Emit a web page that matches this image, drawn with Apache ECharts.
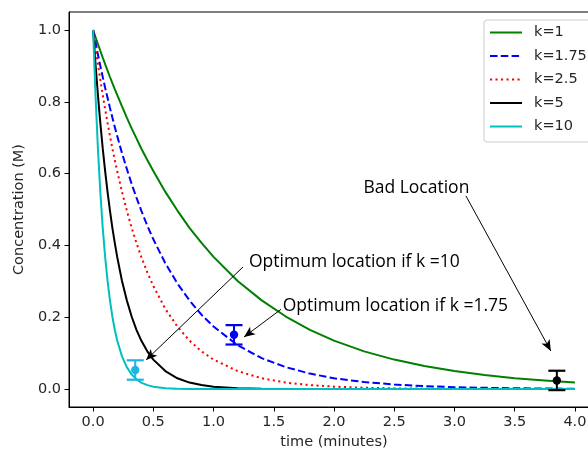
<!DOCTYPE html>
<html>
<head>
<meta charset="utf-8">
<script src="https://cdn.jsdelivr.net/npm/echarts@6/dist/echarts.min.js"></script>
<style>html,body{margin:0;padding:0;background:#fff;}#c{width:588px;height:453px;}</style>
</head>
<body>
<div id="c"></div>
<script>
// time samples (minutes)
const times = [0, 0.02, 0.04, 0.06, 0.08, 0.1, 0.12, 0.14, 0.16, 0.18, 0.2, 0.24, 0.28, 0.32, 0.36, 0.4, 0.45, 0.5, 0.6, 0.7, 0.8, 0.9, 1.0, 1.2, 1.4, 1.6, 1.8, 2.0, 2.25, 2.5, 2.75, 3.0, 3.25, 3.5, 3.75, 4.0];
const seriesNames = ['k=1', 'k=1.75', 'k=2.5', 'k=5', 'k=10'];
const concK1 = [1, 0.980, 0.961, 0.942, 0.923, 0.905, 0.887, 0.869, 0.852, 0.835, 0.819, 0.787, 0.756, 0.726, 0.698, 0.670, 0.638, 0.607, 0.549, 0.497, 0.449, 0.407, 0.368, 0.301, 0.247, 0.202, 0.165, 0.135, 0.105, 0.082, 0.064, 0.050, 0.039, 0.030, 0.024, 0.018];
const concK175 = [1, 0.966, 0.932, 0.900, 0.869, 0.839, 0.811, 0.783, 0.756, 0.730, 0.705, 0.657, 0.613, 0.571, 0.533, 0.497, 0.455, 0.417, 0.350, 0.294, 0.247, 0.207, 0.174, 0.122, 0.086, 0.061, 0.043, 0.030, 0.0195, 0.0126, 0.0081, 0.0052, 0.0034, 0.0022, 0.0014, 0.0009];
const concK25 = [1, 0.951, 0.905, 0.861, 0.819, 0.779, 0.741, 0.705, 0.670, 0.638, 0.607, 0.549, 0.497, 0.449, 0.407, 0.368, 0.325, 0.287, 0.223, 0.174, 0.135, 0.105, 0.082, 0.050, 0.030, 0.018, 0.011, 0.0067, 0.0036, 0.0019, 0.0010, 0.0006, 0.0003, 0.0002, 0.0001, 0.0000];
const concK5 = [1, 0.905, 0.819, 0.741, 0.670, 0.607, 0.549, 0.497, 0.449, 0.407, 0.368, 0.301, 0.247, 0.202, 0.165, 0.135, 0.105, 0.082, 0.050, 0.030, 0.018, 0.011, 0.0067, 0.0025, 0.0009, 0.0003, 0.0001, 0, 0, 0, 0, 0, 0, 0, 0, 0];
const concK10 = [1, 0.819, 0.670, 0.549, 0.449, 0.368, 0.301, 0.247, 0.202, 0.165, 0.135, 0.091, 0.061, 0.041, 0.027, 0.018, 0.011, 0.0067, 0.0025, 0.0009, 0.0003, 0.0001, 0, 0, 0, 0, 0, 0, 0, 0, 0, 0, 0, 0, 0, 0];

// measured points with error bars
const errTimes = [0.35, 1.17, 3.85];
const errConc = [0.053, 0.151, 0.024];
const errSize = [0.027, 0.027, 0.027];

// tick labels
const xTicks = [0, 0.5, 1.0, 1.5, 2.0, 2.5, 3.0, 3.5, 4.0];
const yTicks = [0, 0.2, 0.4, 0.6, 0.8, 1.0];

// annotations
const annotTexts = ['Optimum location if k =10', 'Optimum location if k =1.75', 'Bad Location'];
const annotAnchors = [[1.29, 0.353], [1.57, 0.232], [2.24, 0.559]];
const arrowStarts = [[1.245, 0.340], [1.56, 0.222], [3.095, 0.538]];
const arrowEnds = [[0.44, 0.081], [1.253, 0.145], [3.80, 0.106]];

const lineColors = ['#008000', '#0000ff', '#ff0000', '#000000', '#00bfbf'];
const lineTypes = ['solid', [7.5, 3.3], [2.1, 3.4], 'solid', 'solid'];
const errColors = ['#1eb4e6', '#0000ee', '#000000'];
const allConc = [concK1, concK175, concK25, concK5, concK10];

const chart = echarts.init(document.getElementById('c'), null, {renderer: 'canvas'});
const tickFont = {fontFamily: 'DejaVu Sans', fontSize: 14.5, color: '#262626'};

const curveSeries = seriesNames.map((nm, i) => ({
  name: nm,
  type: 'line',
  data: times.map((t, j) => [t, allConc[i][j]]),
  showSymbol: false,
  symbol: 'none',
  lineStyle: {color: lineColors[i], width: 2, type: lineTypes[i]},
  itemStyle: {color: lineColors[i]},
  z: 2 + i
}));

const errSeries = {
  name: 'measured',
  type: 'custom',
  data: errTimes.map((t, i) => [t, errConc[i], errSize[i]]),
  z: 10,
  renderItem: function (params, api) {
    const x = api.value(0), y = api.value(1), e = api.value(2);
    const top = api.coord([x, y + e]);
    const bot = api.coord([x, y - e]);
    const c = api.coord([x, y]);
    const hw = 8.5;
    const col = errColors[params.dataIndex];
    return {
      type: 'group',
      children: [
        {type: 'line', shape: {x1: top[0], y1: top[1], x2: bot[0], y2: bot[1]}, style: {stroke: col, lineWidth: 2}},
        {type: 'line', shape: {x1: top[0] - hw, y1: top[1], x2: top[0] + hw, y2: top[1]}, style: {stroke: col, lineWidth: 2.2}},
        {type: 'line', shape: {x1: bot[0] - hw, y1: bot[1], x2: bot[0] + hw, y2: bot[1]}, style: {stroke: col, lineWidth: 2.2}},
        {type: 'circle', shape: {cx: c[0], cy: c[1], r: 4.2}, style: {fill: col}}
      ]
    };
  }
};

const annotSeries = {
  name: 'annotations',
  type: 'scatter',
  data: [],
  z: 12,
  markLine: {
    silent: true,
    symbol: ['none', 'arrow'],
    symbolSize: [7, 11],
    lineStyle: {color: '#000', width: 1, type: 'solid'},
    label: {show: false},
    data: arrowStarts.map((s, i) => [{coord: s}, {coord: arrowEnds[i]}])
  },
  markPoint: {
    silent: true,
    symbol: 'circle',
    symbolSize: 1,
    itemStyle: {color: 'rgba(0,0,0,0)'},
    label: {show: true, position: 'right', distance: 0, formatter: '{b}', fontFamily: 'Open Sans', fontSize: 17.5, color: '#000'},
    data: annotTexts.map((t, i) => ({name: t, coord: annotAnchors[i]}))
  }
};

chart.setOption({
  animation: false,
  backgroundColor: '#fff',
  grid: {left: 69, top: 12, width: 530, height: 395, outerBoundsMode: 'none', containLabel: false, show: true, borderColor: '#000', borderWidth: 1, backgroundColor: 'transparent'},
  legend: {
    orient: 'vertical',
    left: 484, top: 20,
    itemWidth: 32, itemHeight: 14, itemGap: 8.5,
    padding: [5, 30, 8, 5],
    borderColor: '#cccccc', borderWidth: 1, borderRadius: 3,
    backgroundColor: 'rgba(255,255,255,0.85)',
    itemStyle: {opacity: 0},
    textStyle: {fontFamily: 'DejaVu Sans', fontSize: 14.5, color: '#262626', padding: [0, 0, 0, 7]},
    data: seriesNames
  },
  xAxis: {
    type: 'value', min: -0.2, max: 4.2,
    name: 'time (minutes)', nameLocation: 'middle', nameGap: 28,
    nameTextStyle: tickFont,
    axisLine: {show: true, onZero: false, lineStyle: {color: '#000', width: 1}},
    axisTick: {show: true, customValues: xTicks, length: 4.5, lineStyle: {color: '#000'}},
    axisLabel: {customValues: xTicks, formatter: v => v.toFixed(1), margin: 8, ...tickFont},
    splitLine: {show: false}
  },
  yAxis: {
    type: 'value', min: -0.05, max: 1.05,
    name: 'Concentration (M)', nameLocation: 'middle', nameGap: 42,
    nameTextStyle: tickFont,
    axisLine: {show: true, onZero: false, lineStyle: {color: '#000', width: 1}},
    axisTick: {show: true, customValues: yTicks, length: 4.5, lineStyle: {color: '#000'}},
    axisLabel: {customValues: yTicks, formatter: v => v.toFixed(1), margin: 8, ...tickFont},
    splitLine: {show: false}
  },
  series: [...curveSeries, errSeries, annotSeries]
});
</script>
</body>
</html>
